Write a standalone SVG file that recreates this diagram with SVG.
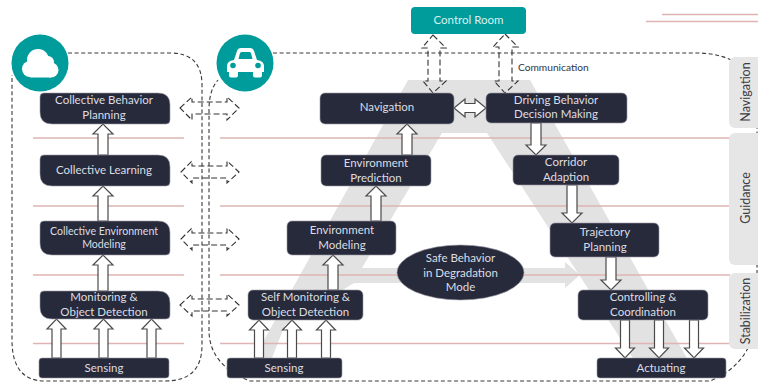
<svg xmlns="http://www.w3.org/2000/svg" width="758" height="383" viewBox="0 0 758 383">
<style>
.n{fill:#272a3b;stroke:#9a9ca6;stroke-width:.6}
.t{font-family:"Lato","Liberation Sans",sans-serif;font-size:11.500px;fill:#dcdde2;text-anchor:middle}
.pink{stroke:#e0b4b4;stroke-width:1.4;fill:none}
.dash{fill:none;stroke:#3a3a3a;stroke-width:1.100;stroke-dasharray:4 2.600}
.da{fill:none;stroke:#333;stroke-width:1.100;stroke-dasharray:6 3}
.a{fill:#fff;stroke:#4a4a4a;stroke-width:1.200;stroke-linejoin:miter}
.side{fill:#e6e6e6}
.st{font-family:"Lato","Liberation Sans",sans-serif;font-size:12.500px;fill:#3c3c44;text-anchor:middle}
.teal{fill:#009c9c}
</style>
<rect width="758" height="383" fill="#fff"/>
<path d="M408 80H530L698 378H646L487 133H442L362 268H565V262L580 275L565 288V283H354L285 325L264 378H243Z" fill="#e2e2e2"/>
<g id="guides">
<path class="pink" d="M33 138H184M220 138H730M33 206H184M220 206H730M33 275H184M220 275H730M33 343.500H184M220 343.500H730M662 14.500H758M646 21.500H758"/>
</g>
<g id="containers">
<path class="dash" d="M68 53H170Q202 53 202 85V345Q202 381 165 381H45Q12 381 12 340V75"/>
<path class="dash" d="M273 53H700Q745 55 757 90V320Q750 365 710 381H250Q209 365 209 330V110Q209 90 218 80"/>
</g>
<g id="side-navigation"><rect class="side" x="729" y="57" width="40" height="71" rx="6"/><text class="st" transform="translate(750 92) rotate(-90)">Navigation</text></g>
<g id="side-guidance"><rect class="side" x="729" y="133" width="40" height="132" rx="6"/><text class="st" transform="translate(750 198) rotate(-90)">Guidance</text></g>
<g id="side-stabilization"><rect class="side" x="729" y="273" width="40" height="76" rx="6"/><text class="st" transform="translate(750 311) rotate(-90)">Stabilization</text></g>
<g id="connectors">
<path class="a" d="M98 155V134H93L103 124L113 134H108V155Z"/>
<path class="a" d="M98 221V196H93L103 186L113 196H108V221Z"/>
<path class="a" d="M98 291V265H93L103 255L113 265H108V291Z"/>
<path class="a" d="M52 358V329H47L56.500 319L66 329H61V358Z"/>
<path class="a" d="M99 358V329H94L103.500 319L113 329H108V358Z"/>
<path class="a" d="M147 358V329H142L151.500 319L161 329H156V358Z"/>
<path class="a" d="M402 155V134H397L407 124L417 134H412V155Z"/>
<path class="a" d="M371 221V196H366L376 186L386 196H381V221Z"/>
<path class="a" d="M328 290V265H323L333 255L343 265H338V290Z"/>
<path class="a" d="M254.500 358V330H249.500L259 320L268.500 330H263.500V358Z"/>
<path class="a" d="M287.500 358V330H282.500L292 320L301.500 330H296.500V358Z"/>
<path class="a" d="M321.500 358V330H316.500L326 320L335.500 330H330.500V358Z"/>
<path class="a" d="M531 123V145H526L536 155L546 145H541V123Z"/>
<path class="a" d="M567 185V213H562L572 223L582 213H577V185Z"/>
<path class="a" d="M606 257V280H601L611 290L621 280H616V257Z"/>
<path class="a" d="M620.500 320V348H615.500L625 358L634.500 348H629.500V320Z"/>
<path class="a" d="M654.500 320V348H649.500L659 358L668.500 348H663.500V320Z"/>
<path class="a" d="M689.500 320V348H684.500L694 358L703.500 348H698.500V320Z"/>
<path class="a" d="M454 108L465 99V103.500H475V99L486 108L475 117V112.500H465V117Z"/>
<path class="da" d="M180 108L192 97V102H227V97L239 108L227 120V114H192V120Z"/>
<path class="da" d="M181 172L192 161V166H227V161L239 172L227 183V178H192V183Z"/>
<path class="da" d="M181 239L192 228V233H227V228L239 239L227 250V245H192V250Z"/>
<path class="da" d="M180 305L192 294V299H227V294L239 305L227 316V311H192V316Z"/>
<path class="da" d="M433 35L446 48H440V81H446L433 93L423 81H428V48H422Z"/>
<path class="da" d="M505 34L518 47H512V81H518L505 93L494 81H499V47H493Z"/>
</g>
<text x="518" y="71" font-family="Lato,'Liberation Sans',sans-serif" font-size="10.200" fill="#33343c">Communication</text>
<g id="cloud-icon"><circle class="teal" cx="40" cy="63" r="28.500"/><g fill="#fff"><circle cx="38" cy="60" r="11"/><circle cx="48" cy="62" r="6"/><circle cx="51" cy="70" r="7.500"/><circle cx="30" cy="69" r="8"/><rect x="30" y="66" width="21" height="11.500"/></g></g>
<g id="car-icon"><circle class="teal" cx="245" cy="63" r="28.500"/><path fill="#fff" d="M234 60L237 51Q238 48 241 48H250Q253 48 254 51L257 60Q264 61 264 66V72H227V66Q227 61 234 60Z"/><rect fill="#fff" x="229" y="70" width="9" height="7.500" rx="2"/><rect fill="#fff" x="253" y="70" width="9" height="7.500" rx="2"/><path class="teal" d="M238.500 59L240 53Q240.500 52 242 52H249Q250.500 52 251 53L252.500 59Z"/><circle class="teal" cx="233" cy="65.500" r="2.800"/><circle class="teal" cx="258" cy="65.500" r="2.800"/></g>
<g id="control-room"><rect class="teal" x="411" y="7" width="115" height="27" rx="4"/><text class="t" x="468.500" y="24" style="fill:#d9f0ee">Control Room</text></g>
<g id="collective-planning"><path class="n" d="M44 93H158Q170 93 170 105V120Q170 124 166 124H52Q40 124 40 112V97Q40 93 44 93Z"/><text class="t" x="104" y="104">Collective Behavior</text><text class="t" x="104" y="119">Planning</text></g>
<g id="collective-learning"><path class="n" d="M44 155H158Q170 155 170 167V182Q170 186 166 186H52Q40 186 40 174V159Q40 155 44 155Z"/><text class="t" x="104" y="174">Collective Learning</text></g>
<g id="collective-environment"><path class="n" d="M44 221H158Q170 221 170 233V251Q170 255 166 255H52Q40 255 40 243V225Q40 221 44 221Z"/><text class="t" x="104" y="235" style="font-size:10.600px">Collective Environment</text><text class="t" x="104" y="248" style="font-size:10.600px">Modeling</text></g>
<g id="monitoring"><path class="n" d="M44 291H158Q170 291 170 303V315Q170 319 166 319H52Q40 319 40 307V295Q40 291 44 291Z"/><text class="t" x="104" y="301">Monitoring &amp;</text><text class="t" x="104" y="316">Object Detection</text></g>
<g id="sensing-left"><rect class="n" x="39" y="358" width="130" height="20" rx="3"/><text class="t" x="104" y="372">Sensing</text></g>
<g id="navigation"><rect class="n" x="320" y="93" width="134" height="31" rx="5"/><text class="t" x="387" y="111">Navigation</text></g>
<g id="driving"><rect class="n" x="486" y="93" width="141" height="30" rx="5"/><text class="t" x="556" y="104">Driving Behavior</text><text class="t" x="556" y="118">Decision Making</text></g>
<g id="env-prediction"><rect class="n" x="321" y="155" width="110" height="31" rx="5"/><text class="t" x="376" y="167">Environment</text><text class="t" x="376" y="181.500">Prediction</text></g>
<g id="corridor"><rect class="n" x="513" y="155" width="106" height="30" rx="5"/><text class="t" x="566" y="166">Corridor</text><text class="t" x="566" y="181">Adaption</text></g>
<g id="env-modeling"><rect class="n" x="287" y="221" width="109" height="34" rx="5"/><text class="t" x="342" y="234">Environment</text><text class="t" x="342" y="249">Modeling</text></g>
<g id="trajectory"><rect class="n" x="550" y="223" width="109" height="34" rx="5"/><text class="t" x="605" y="236">Trajectory</text><text class="t" x="605" y="251">Planning</text></g>
<g id="self-monitoring"><rect class="n" x="248" y="290" width="115" height="30" rx="5"/><text class="t" x="305.500" y="301">Self Monitoring &amp;</text><text class="t" x="305.500" y="315.500">Object Detection</text></g>
<g id="controlling"><rect class="n" x="578" y="290" width="130" height="30" rx="5"/><text class="t" x="643" y="301">Controlling &amp;</text><text class="t" x="643" y="315.500">Coordination</text></g>
<g id="sensing-right"><rect class="n" x="227" y="358" width="115" height="20" rx="3"/><text class="t" x="284" y="372">Sensing</text></g>
<g id="actuating"><rect class="n" x="597" y="358" width="129" height="20" rx="3"/><text class="t" x="661" y="372">Actuating</text></g>
<g id="safe-behavior"><ellipse class="n" cx="460.500" cy="272.500" rx="63.500" ry="27.500"/><text class="t" x="460.500" y="262">Safe Behavior</text><text class="t" x="460.500" y="276.500">in Degradation</text><text class="t" x="460.500" y="291">Mode</text></g>
</svg>
